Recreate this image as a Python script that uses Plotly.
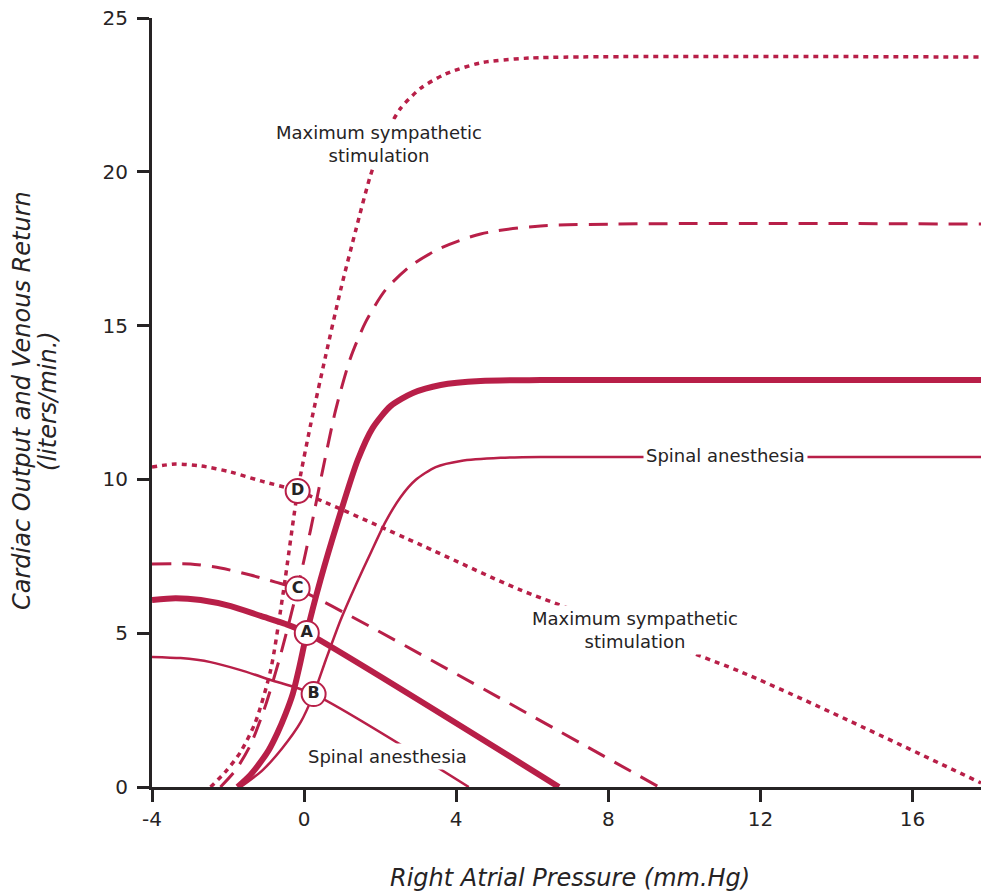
import plotly.graph_objects as go

# Cardiac output curves (right atrial pressure -> output, L/min)
co_normal_x = [-1.75, -1.46, -1.20, -0.93, -0.70, -0.49, -0.30, -0.12, 0.07, 0.43, 0.88, 1.41, 1.80, 2.28, 2.86, 3.59, 4.64, 6.22, 17.8]
co_normal_y = [0, 0.33, 0.72, 1.20, 1.76, 2.37, 3.02, 3.93, 5.01, 6.73, 8.61, 10.63, 11.67, 12.39, 12.81, 13.07, 13.20, 13.23, 13.23]

co_spinal_x = [-1.67, -1.09, -0.57, -0.09, 0.25, 0.57, 0.96, 1.36, 1.75, 2.14, 2.54, 2.93, 3.46, 4.12, 5.17, 6.22, 17.8]
co_spinal_y = [0, 0.55, 1.27, 2.11, 3.02, 4.13, 5.43, 6.57, 7.61, 8.62, 9.43, 9.98, 10.40, 10.60, 10.70, 10.73, 10.73]

co_symp_x = [-2.20, -1.80, -1.41, -1.01, -0.62, -0.17, 0.17, 0.49, 0.83, 1.22, 1.62, 2.14, 2.80, 3.59, 4.64, 6.22, 17.8]
co_symp_y = [0, 0.55, 1.37, 2.67, 4.29, 6.47, 8.36, 10.31, 12.26, 13.95, 15.12, 16.16, 16.94, 17.52, 17.98, 18.24, 18.30]

co_max_x = [-2.46, -2.07, -1.67, -1.28, -0.88, -0.54, -0.17, 0.17, 0.57, 0.96, 1.36, 1.75, 2.14, 2.54, 3.07, 3.72, 4.64, 5.96, 17.8]
co_max_y = [0, 0.49, 1.14, 2.11, 3.80, 6.40, 9.62, 11.77, 14.04, 16.16, 18.11, 19.90, 21.20, 22.07, 22.72, 23.18, 23.54, 23.70, 23.73]

# Venous return curves
vr_normal_x = [-4.0, -3.38, -2.72, -1.93, -1.14, -0.49, 0.07, 6.70]
vr_normal_y = [6.08, 6.14, 6.08, 5.88, 5.56, 5.30, 5.01, 0]

vr_spinal_x = [-4.0, -3.25, -2.46, -1.67, -0.88, 0.25, 4.33]
vr_spinal_y = [4.23, 4.19, 4.06, 3.80, 3.48, 3.02, 0]

vr_symp_x = [-4.0, -2.99, -2.20, -1.41, -0.75, -0.17, 9.33]
vr_symp_y = [7.25, 7.25, 7.12, 6.89, 6.66, 6.44, 0]

vr_max_x = [-4.0, -3.38, -2.72, -1.93, -1.14, -0.17, 3.07, 5.70, 11.49, 17.8]
vr_max_y = [10.40, 10.50, 10.44, 10.24, 9.95, 9.62, 7.87, 6.40, 3.74, 0.13]

# Equilibrium points
pt_labels = ["A", "B", "C", "D"]
pt_x = [0.07, 0.25, -0.17, -0.17]
pt_y = [5.01, 3.02, 6.45, 9.62]

x_ticks = [-4, 0, 4, 8, 12, 16]
y_ticks = [0, 5, 10, 15, 20, 25]

RED = "#B81F48"
INK = "#262324"
FONT = "DejaVu Sans"

fig = go.Figure()

def curve(x, y, width, dash="solid"):
    fig.add_trace(go.Scatter(
        x=x, y=y, mode="lines",
        line=dict(color=RED, width=width, dash=dash, shape="spline", smoothing=0.7),
        hoverinfo="skip", showlegend=False,
    ))

dotted = "5px,5px"
dashed = "19px,11px"

curve(co_max_x, co_max_y, 3.5, dotted)
curve(vr_max_x, vr_max_y, 3.5, dotted)
curve(co_symp_x, co_symp_y, 3, dashed)
curve(vr_symp_x, vr_symp_y, 3, dashed)
curve(co_spinal_x, co_spinal_y, 2.5)
curve(vr_spinal_x, vr_spinal_y, 2.5)
curve(co_normal_x, co_normal_y, 6)
curve(vr_normal_x, vr_normal_y, 6)

fig.add_trace(go.Scatter(
    x=pt_x, y=pt_y, mode="markers+text", text=pt_labels,
    textposition="middle center",
    textfont=dict(family=FONT, size=16, color=INK, weight="bold"),
    marker=dict(size=24, color="white", line=dict(color=RED, width=2)),
    hoverinfo="skip", showlegend=False,
))

label_font = dict(family=FONT, size=18, color=INK)
annotations = [
    dict(x=1.96, y=20.9, text="Maximum sympathetic<br>stimulation"),
    dict(x=11.09, y=10.78, text="Spinal anesthesia"),
    dict(x=8.70, y=5.10, text="Maximum sympathetic<br>stimulation"),
    dict(x=2.20, y=0.98, text="Spinal anesthesia"),
]
for a in annotations:
    fig.add_annotation(
        x=a["x"], y=a["y"], text=a["text"], showarrow=False,
        xref="x", yref="y", font=label_font, bgcolor="white",
        borderpad=2, align="center",
    )

# axis titles
title_font = dict(family=FONT, size=24, color=INK)
fig.add_annotation(
    x=0.504, y=-0.118, xref="paper", yref="paper",
    text="<i>Right Atrial Pressure (mm.Hg)</i>", showarrow=False,
    font=title_font, xanchor="center", yanchor="middle",
)
fig.add_annotation(
    x=-0.1568, y=0.502, xref="paper", yref="paper",
    text="<i>Cardiac Output and Venous Return</i>", showarrow=False,
    font=title_font, textangle=-90, xanchor="center", yanchor="middle",
)
fig.add_annotation(
    x=-0.1255, y=0.502, xref="paper", yref="paper",
    text="<i>(liters/min.)</i>", showarrow=False,
    font=title_font, textangle=-90, xanchor="center", yanchor="middle",
)

axis_common = dict(
    showgrid=False, zeroline=False, showline=True, linecolor=INK, linewidth=3,
    ticks="outside", ticklen=12, tickwidth=3, tickcolor=INK,
    tickfont=dict(family=FONT, size=20, color=INK),
)
fig.update_xaxes(range=[-4, 17.8], tickvals=x_ticks, ticktext=[str(v) for v in x_ticks], **axis_common)
fig.update_yaxes(range=[0, 25], tickvals=y_ticks, ticktext=[str(v) for v in y_ticks],
                 ticklabelstandoff=5, **axis_common)

fig.update_layout(
    width=981, height=894,
    margin=dict(l=152, r=0, t=18, b=107),
    plot_bgcolor="white", paper_bgcolor="white",
)

fig.write_html("out.html")
